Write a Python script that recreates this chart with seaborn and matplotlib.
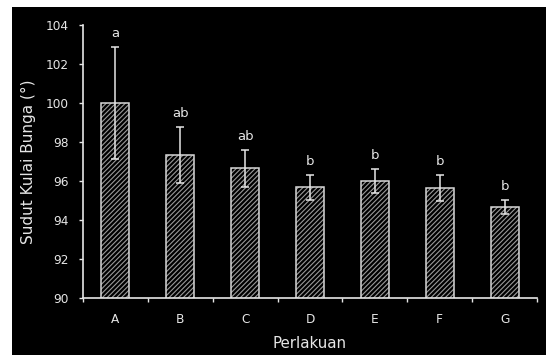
import matplotlib
matplotlib.use("Agg")
import matplotlib.pyplot as plt
import seaborn as sns
import pandas as pd
import numpy as np
from matplotlib.patches import Rectangle
from matplotlib.ticker import FixedLocator

categories = ["A", "B", "C", "D", "E", "F", "G"]
means = [100.0, 97.33, 96.65, 95.67, 96.0, 95.65, 94.67]
errors = [2.85, 1.45, 0.95, 0.64, 0.6, 0.66, 0.35]
letters = ["a", "ab", "ab", "b", "b", "b", "b"]
yticks = [90, 92, 94, 96, 98, 100, 102, 104]

sns.set_theme(style="white")
plt.rcParams['font.family'] = ['DejaVu Sans']
plt.rcParams['hatch.linewidth'] = 0.8

fg = '#e6e6e6'
fig = plt.figure(figsize=(5.46, 3.55), dpi=100)
fig.patch.set_facecolor('white')
fig.patches.append(Rectangle((12/546, 0), 1 - 12/546, (355-7)/355,
                             transform=fig.transFigure, facecolor='black',
                             edgecolor='none', zorder=-10))
ax = fig.add_axes([83/546, 1 - 298/355, (537-83)/546, (298-25)/355])
ax.set_facecolor('none')

df = pd.DataFrame({"Perlakuan": categories, "val": means})
sns.barplot(data=df, x="Perlakuan", y="val", ax=ax, width=0.43,
            color='black', edgecolor='#9a9a9a', linewidth=0,
            hatch='///////', errorbar=None)

bars = list(ax.patches)
for p in bars:
    ax.add_patch(Rectangle(p.get_xy(), p.get_width(), p.get_height(),
                           fill=False, edgecolor='#d8d8d8', linewidth=1.1,
                           zorder=p.get_zorder() + 0.1))

xs = [p.get_x() + p.get_width()/2 for p in bars]
ax.errorbar(xs, means, yerr=errors, fmt='none', ecolor=fg, elinewidth=1.1,
            capsize=3, capthick=1.1, zorder=5)
for x, m, e, l in zip(xs, means, errors, letters):
    ax.annotate(l, (x, m + e), xytext=(0, 5), textcoords='offset points',
                ha='center', va='bottom', color=fg, fontsize=9.5)

ax.set_ylim(90, 104)
ax.set_xlim(-0.5, 6.5)
ax.set_yticks(yticks)
ax.set_yticklabels([str(t) for t in yticks])
ax.xaxis.set_minor_locator(FixedLocator(np.arange(-0.5, 7, 1)))
ax.tick_params(axis='y', which='major', direction='out', length=3, width=1,
               color=fg, labelcolor=fg, labelsize=8.7, pad=7, left=True)
ax.tick_params(axis='x', which='major', length=0, labelcolor=fg,
               labelsize=8.7, pad=11)
ax.tick_params(axis='x', which='minor', direction='out', length=3, width=1,
               color=fg, bottom=True)
for s in ['top', 'right']:
    ax.spines[s].set_visible(False)
for s in ['left', 'bottom']:
    ax.spines[s].set_color(fg)
    ax.spines[s].set_linewidth(1.2)

ax.set_ylabel("Sudut Kulai Bunga (°)", color=fg, fontsize=11)
ax.set_xlabel("Perlakuan", color=fg, fontsize=10.8)
ax.yaxis.set_label_coords(-(83-28)/454, 0.5)
ax.xaxis.set_label_coords(0.5, -(343-298)/273)
ax.xaxis.label.set_va('center')
ax.yaxis.label.set_va('center')

fig.savefig("out.png", dpi=100, facecolor=fig.get_facecolor())
